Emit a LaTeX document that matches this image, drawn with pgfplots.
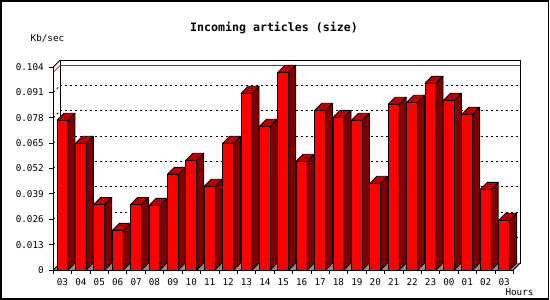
\documentclass[border=0pt]{standalone}
\usepackage{fontspec}
\setmainfont{DejaVu Sans Mono}
\usepackage{pgfplots}
\usepackage{pgfplotstable}
\pgfplotsset{compat=1.18}
\definecolor{barfront}{RGB}{255,0,0}
\definecolor{barside}{RGB}{128,0,0}
\definecolor{bartop}{RGB}{192,0,0}
\definecolor{floorgray}{RGB}{140,140,140}
\newdimen\barh
\pgfdeclareplotmark{nomark}{}
\newcommand\labfont{\fontsize{9.3}{11}\selectfont}
\newcommand\titlefont{\fontsize{11.6}{14}\selectfont\bfseries}
\pgfplotstableread{
x h
0 0.0767
1 0.0649
2 0.0336
3 0.0203
4 0.0336
5 0.0331
6 0.0490
7 0.0562
8 0.0429
9 0.0649
10 0.0905
11 0.0736
12 0.1013
13 0.0557
14 0.0818
15 0.0782
16 0.0767
17 0.0444
18 0.0849
19 0.0859
20 0.0957
21 0.0869
22 0.0798
23 0.0413
24 0.0255
}\hourly
\begin{document}
\begin{tikzpicture}
\useasboundingbox (0pt,0pt) rectangle (550pt,300pt);
\draw[line width=1.2pt] (1pt,1pt) rectangle (548.5pt,299pt);
% back wall
\begin{axis}[at={(60.5pt,37pt)}, anchor=south west, scale only axis,
  width=460pt, height=203pt, xmin=-0.5, xmax=24.5, ymin=0, ymax=0.104,
  xtick=\empty, ytick={0.013,0.026,0.039,0.052,0.065,0.078,0.091}, yticklabels={},
  major tick length=0pt, ymajorgrids,
  grid style={black, line width=0.8pt, dash pattern=on 2pt off 3pt},
  axis line style={line width=0.8pt}, axis background/.style={fill=white}]
\addplot[red, line width=0.8pt] coordinates {(-0.5,0.1013) (24.5,0.1013)};
\end{axis}
% front plane with bars
\begin{axis}[at={(53.3pt,30pt)}, anchor=south west, scale only axis,
  width=460pt, height=203pt, xmin=-0.5, xmax=24.5, ymin=0, ymax=0.104,
  clip=false, axis x line*=bottom, axis y line*=left,
  axis line style={-, line width=0.8pt},
  tick align=outside, major tick length=4pt, tick style={black, line width=0.8pt},
  xtick={-0.5,0.5,...,24.5},
  xticklabels={03,04,05,06,07,08,09,10,11,12,13,14,15,16,17,18,19,20,21,22,23,00,01,02,03},
  x tick label style={xshift=9.2pt, yshift=-1pt, font=\labfont},
  ytick={0,0.013,0.026,0.039,0.052,0.065,0.078,0.091,0.104},
  yticklabels={0,0.013,0.026,0.039,0.052,0.065,0.078,0.091,0.104},
  y tick label style={font=\labfont, xshift=-2pt}]
\fill[floorgray] (axis cs:-0.5,0) -- (axis cs:24.5,0) -- ([shift={(7pt,7pt)}]axis cs:24.5,0) -- ([shift={(7pt,7pt)}]axis cs:-0.5,0) -- cycle;
\draw[line width=0.8pt] (axis cs:24.5,0) -- ++(7pt,7pt);
\draw[line width=0.8pt] (axis cs:-0.5,0) -- ++(7pt,7pt);
\pgfplotsinvokeforeach{0.013,0.026,0.039,0.052,0.065,0.078,0.091}{
  \draw[line width=0.8pt, dash pattern=on 2pt off 3pt] (axis cs:-0.5,#1) -- ++(7pt,7pt);
}
\draw[line width=0.8pt] (axis cs:-0.5,0.104) -- ++(7pt,7pt);
\draw[red, line width=0.8pt] (axis cs:-0.5,0.1013) -- ++(7pt,7pt);
\addplot[scatter, only marks, mark=nomark,
  visualization depends on={rawy \as \hv},
  scatter/@pre marker code/.code={%
    \pgfmathsetlengthmacro\barlen{\hv*1951.923pt}%
    \draw[line width=0.8pt, fill=barfront] (-5.5pt,-\barlen) rectangle (5.5pt,0pt);
    \draw[line width=0.8pt, fill=barside, line join=round] (5.5pt,-\barlen) -- ++(7pt,7pt) -- (12.5pt,7pt) -- (5.5pt,0pt) -- cycle;
    \draw[line width=0.8pt, fill=bartop, line join=round] (-5.5pt,0pt) -- (5.5pt,0pt) -- (12.5pt,7pt) -- (1.5pt,7pt) -- cycle;
  },
  scatter/@post marker code/.code={}]
  table[x=x, y=h] {\hourly};
\end{axis}
\node[font=\titlefont] at (274pt,272pt) {Incoming articles (size)};
\node[font=\labfont] at (47.5pt,261.5pt) {Kb/sec};
\node[font=\labfont] at (519.5pt,8pt) {Hours};
\end{tikzpicture}
\end{document}
